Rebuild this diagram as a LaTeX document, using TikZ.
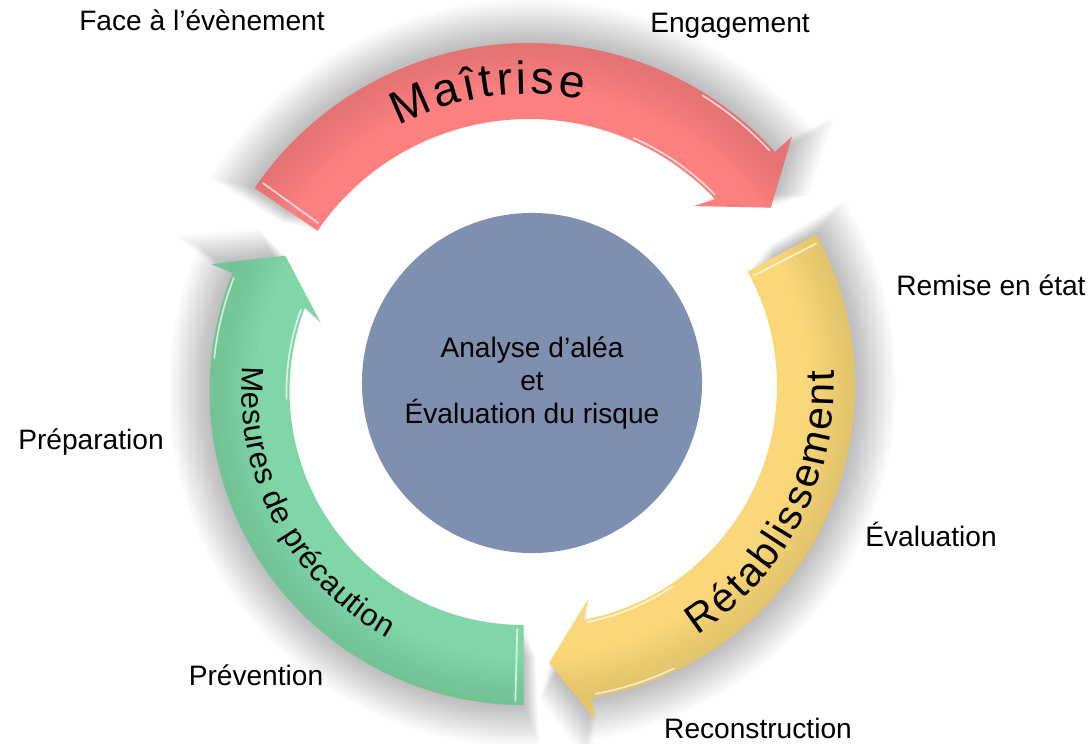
\documentclass[tikz,border=0pt]{standalone}
\usepackage{fontspec}
\setmainfont{Liberation Sans}
\usetikzlibrary{decorations.text}

\definecolor{maitrise}{RGB}{252,128,128}
\definecolor{retablis}{RGB}{250,216,122}
\definecolor{precaut}{RGB}{128,214,166}
\definecolor{noyau}{RGB}{127,143,175}

% curved arrow of the cycle: tail angle, end angle, inner radius, outer radius
\newcommand{\ringarrow}[4]{%
  ({#1}:{#4}) arc[start angle={#1}, end angle={#2}, radius={#4}]
  -- ({#2}:{#4+23}) -- ({#2-7.5}:{(#3+#4)/2}) -- ({#2+3.5}:{#3-20})
  -- ({#2+1.2}:{#3}) arc[start angle={#2+1.2}, end angle={#1}, radius={#3}] -- cycle}

\tikzset{
  phase/.style={font=\fontsize{20}{24}\selectfont, anchor=base, inner sep=0pt},
  glint/.style={white, opacity=0.7, line width=1.2pt, line cap=round},
  core/.style={circle, fill=noyau, minimum size=8.5cm, inner sep=0pt, align=center,
    font=\fontsize{20}{23.5}\selectfont}
}

\begin{document}
\begin{tikzpicture}[x=0.025cm, y=0.025cm]
    \useasboundingbox (0,0) rectangle (1089,743);
    \fill[white] (0,0) rectangle (1089,743);

    \coordinate (redc) at (529,368);
    \coordinate (yelc) at (539,357);
    \coordinate (grnc) at (523.5,352);

    % soft shadows, stacked scaled copies
    \foreach \ctr/\ta/\tb/\ri/\ro in {redc/145.7/42.2/256/332, yelc/28.7/-80.4/238/316, grnc/270/157.9/234/314}{
        \foreach \s in {1.00,1.01,...,1.135}{
            \begin{scope}[shift={(\ctr)}, scale=\s]
            \fill[black, opacity=0.018] \ringarrow{\ta+(\s-1)*20}{\tb-(\s-1)*15}{\ri}{\ro};
            \end{scope}
        }
    }

    % arrows
    \foreach \ctr/\ta/\tb/\ri/\ro/\col in {redc/145.7/42.2/256/332/maitrise, yelc/28.7/-80.4/238/316/retablis, grnc/270/157.9/234/314/precaut}{
        \begin{scope}[shift={(\ctr)}]
        \fill[fill=\col] \ringarrow{\ta}{\tb}{\ri}{\ro};
        \begin{scope}
            \clip \ringarrow{\ta}{\tb}{\ri}{\ro};
            \foreach \w in {8,16,...,64}
                \draw[color=\col!70!black, opacity=0.035, line width=\w pt] ({\ta}:{\ro}) arc[start angle={\ta}, end angle={\tb-10}, radius={\ro}];
        \end{scope}
        \draw[glint] ({\ta-1.5}:{\ri+4}) -- ({\ta-1.5}:{\ro-4}); % tail
        \draw[glint] ({\tb+24}:{\ri+3}) arc[start angle={\tb+24}, end angle={\tb+2}, radius={\ri+3}];
        \draw[glint] ({\tb+16}:{\ro-3}) arc[start angle={\tb+16}, end angle={\tb+0.8}, radius={\ro-3}];
        \end{scope}
    }

    % texts on the arrows
    \begin{scope}[shift={(redc)}]
    \path[decorate, decoration={text along path, text={|\fontsize{33}{40}\selectfont|Maîtrise}, text align={fit to path}}]
        (117.5:281) arc[start angle=117.5, end angle=79, radius=281];
    \end{scope}
    \begin{scope}[shift={(yelc)}]
    \path[decorate, decoration={text along path, text={|\fontsize{29}{35}\selectfont|Rétablissement}, text align={fit to path}}]
        (-57.5:295) arc[start angle=-57.5, end angle=3, radius=295];
    \end{scope}
    \begin{scope}[shift={(grnc)}]
    \path[decorate, decoration={text along path, text={|\fontsize{22}{27}\selectfont|Mesures de précaution}, text align={fit to path}}]
        (175:282) arc[start angle=175, end angle=241, radius=282];
    \end{scope}

    \node (hub) [core] at (532,360) {Analyse d’aléa\\et\\Évaluation du risque};

    \node (face) [phase] at (202,712) {Face à l’évènement};
    \node (engage) [phase] at (730,710) {Engagement};
    \node (remise) [phase] at (991,447) {Remise en état};
    \node (evalu) [phase] at (931,197) {Évaluation};
    \node (recons) [phase] at (758,5) {Reconstruction};
    \node (preven) [phase] at (256,58) {Prévention};
    \node (prepa) [phase] at (91,293) {Préparation};
\end{tikzpicture}
\end{document}
